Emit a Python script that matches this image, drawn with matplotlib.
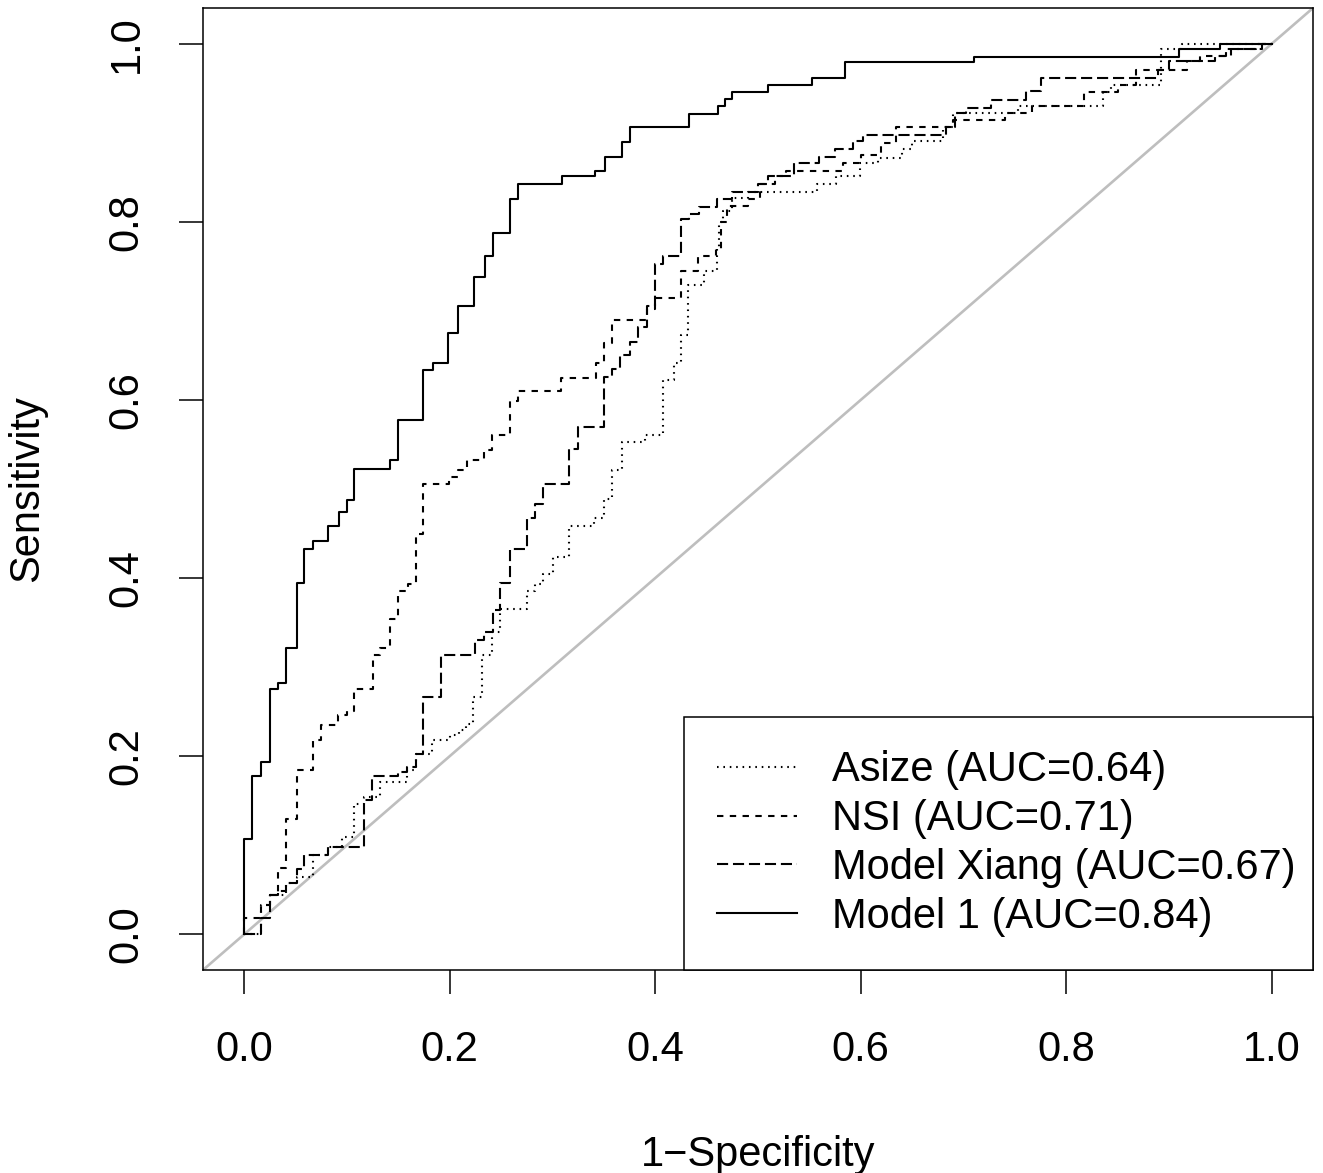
import matplotlib
matplotlib.use("Agg")
import matplotlib.pyplot as plt

plt.rcParams['font.family'] = ['Liberation Sans', 'DejaVu Sans']
plt.rcParams['lines.scale_dashes'] = False

# ROC step points (1-specificity, sensitivity)
asize_fpr = [0, 0.016, 0.025, 0.041, 0.051, 0.067, 0.067, 0.082, 0.095, 0.107, 0.107, 0.117, 0.132, 0.158,
             0.167, 0.183, 0.200, 0.209, 0.216, 0.223, 0.231, 0.241, 0.249, 0.275, 0.283, 0.291, 0.301, 0.316,
             0.340, 0.350, 0.358, 0.368, 0.390, 0.408, 0.408, 0.418, 0.425, 0.432, 0.447, 0.460, 0.462, 0.466,
             0.475, 0.490, 0.557, 0.576, 0.599, 0.617, 0.640, 0.650, 0.680, 0.690, 0.753, 0.836, 0.843, 0.892,
             0.913, 1.0]
asize_tpr = [0, 0.033, 0.044, 0.058, 0.064, 0.070, 0.089, 0.098, 0.109, 0.115, 0.146, 0.154, 0.171, 0.185,
             0.202, 0.218, 0.224, 0.229, 0.236, 0.266, 0.314, 0.339, 0.365, 0.386, 0.393, 0.405, 0.424, 0.458,
             0.467, 0.489, 0.521, 0.553, 0.561, 0.570, 0.622, 0.641, 0.673, 0.729, 0.745, 0.770, 0.800, 0.812,
             0.827, 0.833, 0.842, 0.851, 0.866, 0.872, 0.882, 0.891, 0.906, 0.922, 0.930, 0.946, 0.954, 0.994,
             1.0, 1.0]

nsi_fpr = [0, 0, 0.016, 0.025, 0.033, 0.041, 0.051, 0.067, 0.075, 0.091, 0.100, 0.107, 0.125, 0.132, 0.142,
           0.150, 0.159, 0.167, 0.174, 0.199, 0.208, 0.217, 0.233, 0.241, 0.259, 0.266, 0.308, 0.342, 0.350,
           0.358, 0.392, 0.400, 0.425, 0.442, 0.459, 0.464, 0.470, 0.490, 0.502, 0.517, 0.527, 0.583, 0.600,
           0.620, 0.634, 0.690, 0.740, 0.767, 0.817, 0.850, 0.868, 0.917, 0.930, 0.960, 0.985, 1.0]
nsi_tpr = [0, 0.018, 0.033, 0.044, 0.074, 0.129, 0.185, 0.218, 0.235, 0.246, 0.251, 0.275, 0.314, 0.321, 0.354,
           0.385, 0.393, 0.449, 0.506, 0.513, 0.521, 0.532, 0.544, 0.561, 0.599, 0.610, 0.625, 0.641, 0.664,
           0.690, 0.702, 0.714, 0.745, 0.762, 0.770, 0.800, 0.818, 0.826, 0.842, 0.851, 0.857, 0.866, 0.875,
           0.889, 0.906, 0.914, 0.922, 0.930, 0.946, 0.954, 0.970, 0.980, 0.986, 0.994, 1.0, 1.0]

xiang_fpr = [0, 0.008, 0.016, 0.025, 0.033, 0.041, 0.051, 0.058, 0.082, 0.117, 0.124, 0.150, 0.158, 0.167,
             0.174, 0.192, 0.225, 0.233, 0.242, 0.249, 0.259, 0.275, 0.275, 0.283, 0.291, 0.316, 0.325, 0.350,
             0.358, 0.366, 0.375, 0.383, 0.392, 0.400, 0.408, 0.425, 0.433, 0.443, 0.460, 0.475, 0.500, 0.510,
             0.535, 0.559, 0.575, 0.592, 0.602, 0.683, 0.692, 0.702, 0.727, 0.761, 0.775, 0.889, 0.900, 0.945,
             0.955, 0.990, 1.0]
xiang_tpr = [0, 0, 0.018, 0.044, 0.049, 0.058, 0.073, 0.089, 0.098, 0.151, 0.178, 0.182, 0.188, 0.202,
             0.266, 0.314, 0.330, 0.339, 0.364, 0.394, 0.433, 0.442, 0.467, 0.483, 0.506, 0.545, 0.570, 0.626,
             0.635, 0.650, 0.665, 0.682, 0.705, 0.753, 0.762, 0.803, 0.809, 0.817, 0.826, 0.833, 0.842, 0.851,
             0.866, 0.873, 0.882, 0.891, 0.897, 0.906, 0.922, 0.928, 0.937, 0.947, 0.961, 0.970, 0.980, 0.986,
             0.994, 1.0, 1.0]

m1_fpr = [0, 0, 0.008, 0.016, 0.025, 0.033, 0.041, 0.051, 0.058, 0.067, 0.082, 0.092, 0.100, 0.107, 0.142,
          0.150, 0.174, 0.184, 0.198, 0.208, 0.224, 0.234, 0.242, 0.259, 0.266, 0.309, 0.341, 0.351, 0.368,
          0.375, 0.433, 0.461, 0.468, 0.475, 0.510, 0.553, 0.585, 0.710, 0.910, 0.950, 1.0]
m1_tpr = [0, 0.107, 0.178, 0.193, 0.275, 0.282, 0.321, 0.394, 0.433, 0.442, 0.458, 0.474, 0.488, 0.522, 0.532,
          0.577, 0.634, 0.641, 0.675, 0.705, 0.738, 0.762, 0.787, 0.826, 0.842, 0.851, 0.857, 0.873, 0.890,
          0.906, 0.921, 0.930, 0.938, 0.946, 0.954, 0.961, 0.979, 0.985, 0.994, 1.0, 1.0]

labels = ['Asize (AUC=0.64)', 'NSI (AUC=0.71)', 'Model Xiang (AUC=0.67)', 'Model 1 (AUC=0.84)']
ticks = [0.0, 0.2, 0.4, 0.6, 0.8, 1.0]

fs = 30
lw = 1.5

fig = plt.figure(figsize=(13.23, 11.73), dpi=100)
ax = fig.add_axes([203 / 1323, 1 - 970 / 1173, 1110 / 1323, 962 / 1173])

# reference diagonal
ax.axline((0, 0), (1, 1), color='#bebebe', lw=1.9, zorder=1)

# R-like line types: dotted, dashed, longdash, solid
styles = [(0, (1.15, 3.45)), (0, (4.6, 4.6)), (0, (8.0, 3.5)), '-']
curves = [(asize_fpr, asize_tpr), (nsi_fpr, nsi_tpr), (xiang_fpr, xiang_tpr), (m1_fpr, m1_tpr)]
for (fx, ty), ls, lab in zip(curves, styles, labels):
    ax.step(fx, ty, where='post', color='black', lw=lw, linestyle=ls, label=lab, zorder=2)

ax.set_xlim(-0.04, 1.04)
ax.set_ylim(-0.04, 1.04)
ax.set_xticks(ticks)
ax.set_yticks(ticks)
ax.set_xticklabels(['%.1f' % t for t in ticks])
ax.set_yticklabels(['%.1f' % t for t in ticks], rotation=90, va='center')
ax.tick_params(length=17.6, width=1.1, labelsize=fs, direction='out')
ax.tick_params(axis='x', pad=25.5)
ax.tick_params(axis='y', pad=23)
for sp in ax.spines.values():
    sp.set_linewidth(1.1)

ax.set_xlabel('1\u2212Specificity', fontsize=fs, labelpad=47)
ax.set_ylabel('Sensitivity', fontsize=fs, labelpad=43)

x0 = (684 - 203) / 1110
leg = ax.legend(loc='lower left', bbox_to_anchor=(x0, 0, 1 - x0, 0.3), mode='expand',
                fontsize=fs, frameon=True, fancybox=False, edgecolor='black',
                framealpha=1, borderaxespad=0, handlelength=1.92, handletextpad=0.84,
                labelspacing=0.21, borderpad=0.8)
leg.get_frame().set_linewidth(1.1)

fig.savefig('out.png', dpi=100)
